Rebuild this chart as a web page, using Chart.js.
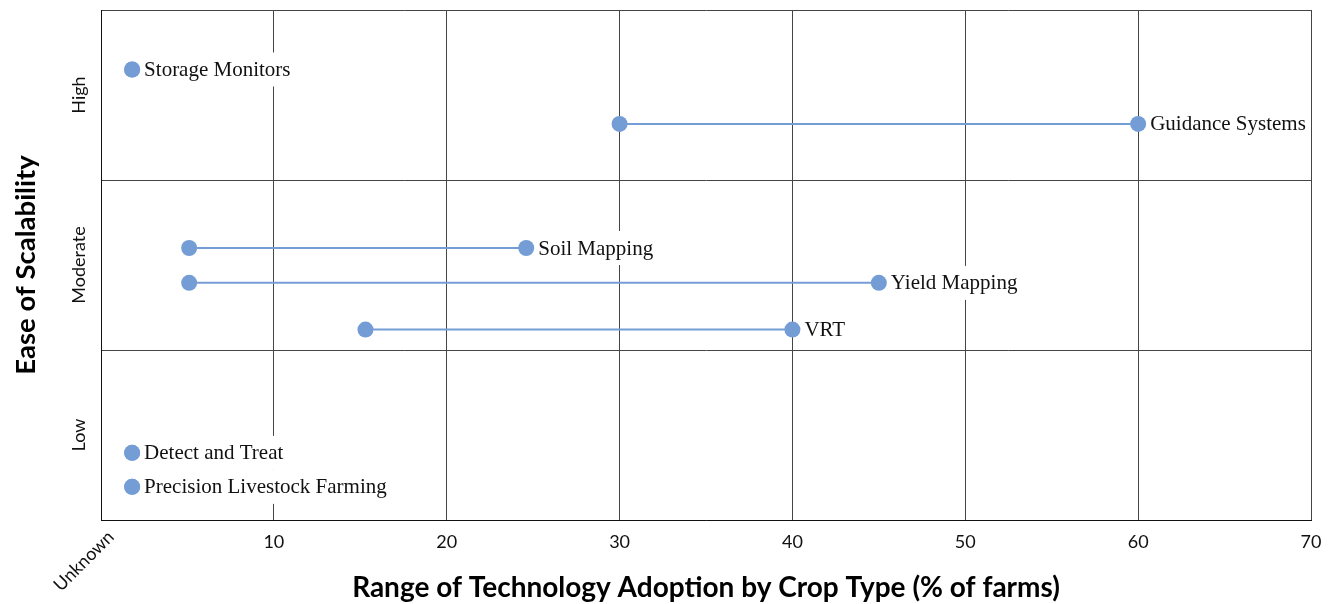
<!DOCTYPE html>
<html>
<head>
<meta charset="utf-8">
<script src="https://cdn.jsdelivr.net/npm/chart.js@4/dist/chart.umd.min.js"></script>
<style>
  html, body { margin: 0; padding: 0; background: #fff; }
  #wrap { width: 1331px; height: 604px; position: relative; }
</style>
</head>
<body>
<div id="wrap"><canvas id="dumbbellChart"></canvas></div>
<script>
// technologies, adoption range (% of farms), vertical position within band
const techNames = ["Storage Monitors", "Guidance Systems", "Soil Mapping", "Yield Mapping", "VRT", "Detect and Treat", "Precision Livestock Farming"];
const lowValues = [1.8, 30, 5.1, 5.1, 15.3, 1.8, 1.8];
const highValues = [1.8, 60, 24.6, 45, 40, 1.8, 1.8];
const yPositions = [2.65, 2.33, 1.6, 1.395, 1.12, 0.395, 0.195];

const bandLabels = ["Low", "Moderate", "High"];
const bandCenters = [0.5, 1.5, 2.5];
const xTicks = [10, 20, 30, 40, 50, 60, 70];
const unknownLabel = "Unknown";

const dotColor = "rgb(116, 157, 213)";

const datasets = techNames.map((name, i) => ({
    label: name,
    data: [
        { x: lowValues[i], y: yPositions[i] },
        { x: highValues[i], y: yPositions[i] }
    ],
    borderColor: dotColor,
    backgroundColor: dotColor,
    borderWidth: 2,
    pointRadius: 8,
    pointHoverRadius: 8,
    pointBorderWidth: 0,
    fill: false,
}));

// labels next to the right end of each range, on a white box
const labelPlugin = {
    id: "techLabels",
    afterDatasetsDraw(chart) {
        const { ctx, scales: { x, y } } = chart;
        ctx.save();
        ctx.font = "21px 'Liberation Serif', serif";
        ctx.textBaseline = "middle";
        techNames.forEach((name, i) => {
            const px = x.getPixelForValue(highValues[i]) + 12;
            const py = y.getPixelForValue(yPositions[i]);
            const w = ctx.measureText(name).width;
            ctx.fillStyle = "#fff";
            ctx.fillRect(px - 1, py - 17, w + 3, 34);
            ctx.fillStyle = "#111";
            ctx.fillText(name, px, py + 1);
        });
        ctx.restore();
    }
};

// band names on the y axis and the rotated "Unknown" tick
const axisTextPlugin = {
    id: "axisText",
    afterDraw(chart) {
        const { ctx, scales: { x, y } } = chart;
        ctx.save();
        ctx.fillStyle = "#111";
        ctx.font = "18px Lato, sans-serif";
        ctx.textAlign = "center";
        ctx.textBaseline = "middle";
        bandLabels.forEach((lab, i) => {
            const py = y.getPixelForValue(bandCenters[i]);
            ctx.save();
            ctx.translate(79, py);
            ctx.rotate(-Math.PI / 2);
            ctx.fillText(lab, 0, 0);
            ctx.restore();
        });
        ctx.translate(x.getPixelForValue(0) + 10, y.bottom + 14);
        ctx.rotate(-Math.PI / 4);
        ctx.textAlign = "right";
        ctx.fillText(unknownLabel, 0, 0);
        ctx.restore();
    }
};

new Chart(document.getElementById("dumbbellChart"), {
    type: "line",
    data: { datasets: datasets },
    plugins: [labelPlugin, axisTextPlugin],
    options: {
        responsive: true,
        maintainAspectRatio: false,
        animation: false,
        layout: { padding: { top: 10, right: 0, left: 0, bottom: 0 } },
        plugins: {
            legend: { display: false },
            tooltip: { enabled: false },
        },
        scales: {
            x: {
                type: "linear",
                min: 0,
                max: 70,
                afterBuildTicks: (scale) => { scale.ticks = [0].concat(xTicks).map(v => ({ value: v })); },
                afterFit: (scale) => { scale.height = 84; scale.paddingRight = 20; },
                ticks: {
                    callback: (v) => v === 0 ? "" : String(v),
                    color: "#111",
                    padding: 11,
                    maxRotation: 0,
                    font: { family: "Lato", size: 18, weight: "400" },
                },
                grid: { color: "#444", drawTicks: false, lineWidth: 1 },
                border: { color: "#111", width: 1 },
                title: {
                    display: true,
                    text: "Range of Technology Adoption by Crop Type (% of farms)",
                    color: "#000",
                    font: { family: "Lato", size: 28, weight: "bold" },
                    padding: { top: 0, bottom: -1 },
                },
            },
            y: {
                type: "linear",
                min: 0,
                max: 3,
                afterBuildTicks: (scale) => { scale.ticks = [0, 1, 2, 3].map(v => ({ value: v })); },
                afterFit: (scale) => { scale.width = 101; },
                ticks: { display: false },
                grid: { color: "#444", drawTicks: false, lineWidth: 1 },
                border: { color: "#111", width: 1 },
                title: {
                    display: true,
                    text: "Ease of Scalability",
                    color: "#000",
                    font: { family: "Lato", size: 27.5, weight: "bold" },
                    padding: { top: 10, bottom: 0 },
                },
            },
        },
    },
});
</script>
</body>
</html>
